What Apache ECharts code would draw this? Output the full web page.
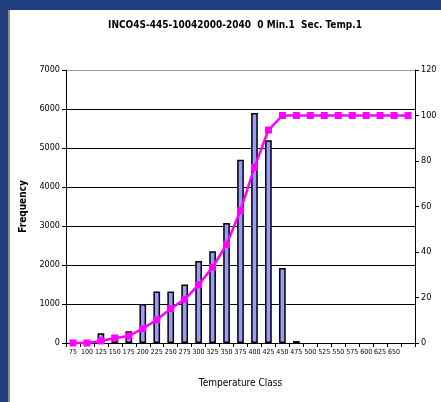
<!DOCTYPE html>
<html><head><meta charset="utf-8">
<script src="https://cdn.jsdelivr.net/npm/echarts@6/dist/echarts.min.js"></script>
<style>html,body{margin:0;padding:0;background:#fff}#c{width:441px;height:402px}</style>
</head><body><div id="c"></div>
<script>
const categories = ['75','100','125','150','175','200','225','250','275','300','325','350','375','400','425','450','475','500','525','550','575','600','625','650','675'];
const tickLabels = ['75','100','125','150','175','200','225','250','275','300','325','350','375','400','425','450','475','500','525','550','575','600','625','650',''];
const frequency = [null,null,250,200,300,1000,1320,1320,1500,2100,2350,3080,4700,5900,5200,1920,50,null,null,null,null,null,null,null,null];
const cumulativePct = [0,0,0.9,2.2,3.1,6.3,10.2,15.1,19.2,25.6,33.3,43.3,58.2,77.2,93.6,100,100,100,100,100,100,100,100,100,100];
const leftTicks = [0,1000,2000,3000,4000,5000,6000,7000];
const rightTicks = [0,20,40,60,80,100,120];

const FONT = '"DejaVu Sans Condensed","Liberation Sans Narrow","Arial Narrow",sans-serif';
const chart = echarts.init(document.getElementById('c'), null, {renderer:'canvas'});
chart.setOption({
  animation:false,
  backgroundColor:'#fff',
  title:{
    text:'INCO4S-445-10042000-2040  0 Min.1  Sec. Temp.1',
    left:230, top:15, textAlign:'center',
    textStyle:{fontFamily:FONT,fontSize:10,fontWeight:'bold',color:'#000'}
  },
  graphic:[
    {type:'rect',shape:{x:0,y:0,width:441,height:10},style:{fill:'#1f3f7f'},silent:true},
    {type:'rect',shape:{x:0,y:0,width:8,height:402},style:{fill:'#1f3f7f'},silent:true},
    {type:'rect',shape:{x:8,y:10,width:2,height:392},style:{fill:'#8c8c8c'},silent:true}
  ],
  grid:{left:66,right:26,top:70,bottom:59},
  xAxis:{
    type:'category',data:categories,boundaryGap:true,
    name:'Temperature Class',nameLocation:'middle',nameGap:35,
    nameTextStyle:{fontFamily:FONT,fontSize:10,color:'#000'},
    axisLine:{lineStyle:{color:'#000',width:1}},
    axisTick:{show:true,interval:0,length:4,lineStyle:{color:'#000'}},
    axisLabel:{interval:0,fontFamily:FONT,fontSize:7,color:'#000',margin:6,
      formatter:(v,i)=>tickLabels[i]}
  },
  yAxis:[
    {type:'value',min:0,max:7000,interval:1000,
     name:'Frequency',nameLocation:'middle',nameGap:28,nameRotate:90,
     nameTextStyle:{fontFamily:FONT,fontSize:10,fontWeight:'bold',color:'#000'},
     axisLine:{show:true,lineStyle:{color:'#000'}},
     axisTick:{show:true,length:4,lineStyle:{color:'#000'}},
     axisLabel:{fontFamily:FONT,fontSize:9,color:'#000',margin:6,
       formatter:v=>leftTicks.includes(v)?String(v):''},
     splitLine:{show:true,lineStyle:{color:['#000','#000','#000','#000','#000','#000','#000','#999'],width:1}}
    },
    {type:'value',min:0,max:120,interval:20,position:'right',
     axisLine:{show:true,lineStyle:{color:'#000'}},
     axisTick:{show:true,length:4,lineStyle:{color:'#000'}},
     axisLabel:{fontFamily:FONT,fontSize:9,color:'#000',margin:6,
       formatter:v=>rightTicks.includes(v)?String(v):''},
     splitLine:{show:false}
    }
  ],
  series:[
    {type:'bar',data:frequency,yAxisIndex:0,barWidth:'48%',
     itemStyle:{color:'#9999ff',borderColor:'#000',borderWidth:1.5}},
    {type:'line',data:cumulativePct,yAxisIndex:1,
     symbol:'rect',symbolSize:7,
     lineStyle:{color:'#ff00ff',width:2.5},
     itemStyle:{color:'#ff00ff'}}
  ]
});
</script></body></html>
